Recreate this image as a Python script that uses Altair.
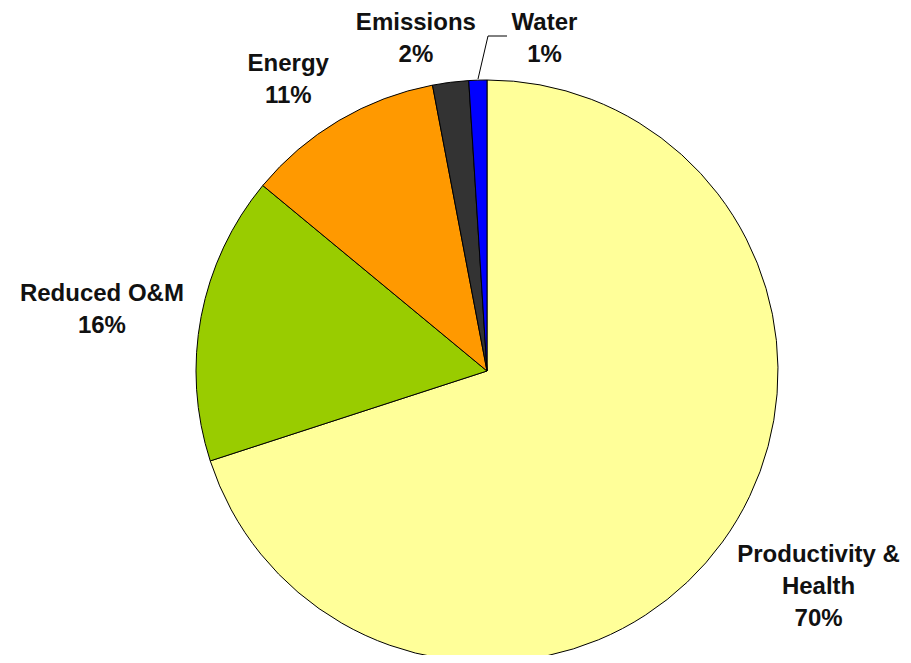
import altair as alt
import pandas as pd

categories = ["Productivity &|Health", "Reduced O&M", "Energy", "Emissions", "Water"]
values = [70, 16, 11, 2, 1]
colors = ["#FFFF99", "#99CC00", "#FF9900", "#333333", "#0000FF"]

df = pd.DataFrame({
    "cat": categories,
    "value": values,
    "idx": list(range(len(categories))),
    "label": [f"{c}|{v}%" for c, v in zip(categories, values)],
})

CX, CY, R = 479, 363, 291
theta_scale = alt.Scale(domain=[0, 100], range=[0, 6.283185307])
color_scale = alt.Scale(domain=categories, range=colors)

base = alt.Chart(df).transform_window(
    cum="sum(value)", sort=[alt.SortField("idx")]
).transform_calculate(
    start="datum.cum - datum.value",
    mid="datum.cum - datum.value / 2",
)

arcs = base.mark_arc(outerRadius=R, stroke="black", strokeWidth=1).encode(
    theta=alt.Theta("start:Q", stack=False, scale=theta_scale),
    theta2="cum:Q",
    color=alt.Color("cat:N", scale=color_scale, legend=None),
    x=alt.value(CX),
    y=alt.value(CY),
)

LH = 32
# per-label placement: (radius, dx, dy, number of lines)
placement = {
    "Productivity &|Health": (395, 12, -16, 3),
    "Reduced O&M": (390, -2, 12, 2),
    "Energy": (357, -17, 16, 2),
    "Emissions": (336, -29, 1, 2),
    "Water": (335, 68, 3, 2),
}

text_layers = []
for cat, (rad, dx, dy, n) in placement.items():
    t = base.transform_filter(alt.datum.cat == cat).mark_text(
        radius=rad, dx=dx, dy=dy - (n - 1) * LH / 2, lineBreak="|", lineHeight=LH,
        font="Liberation Sans", fontWeight="bold", fontSize=24,
        color="#111111", align="center", baseline="middle",
    ).encode(
        theta=alt.Theta("mid:Q", stack=False, scale=theta_scale),
        text="label:N",
        x=alt.value(CX),
        y=alt.value(CY),
    )
    text_layers.append(t)

leader1 = alt.Chart(df.head(1)).mark_rule(color="black", strokeWidth=1).encode(
    x=alt.value(470), y=alt.value(71), x2=alt.value(480), y2=alt.value(28)
)
leader2 = alt.Chart(df.head(1)).mark_rule(color="black", strokeWidth=1).encode(
    x=alt.value(480), y=alt.value(28), x2=alt.value(499), y2=alt.value(28)
)

chart = alt.layer(arcs, *text_layers, leader1, leader2).properties(
    width=895, height=647, autosize="none", padding=0, background="white"
).configure_view(strokeWidth=0)

chart.save("out.html", embed_options={"renderer": "svg", "actions": False})
